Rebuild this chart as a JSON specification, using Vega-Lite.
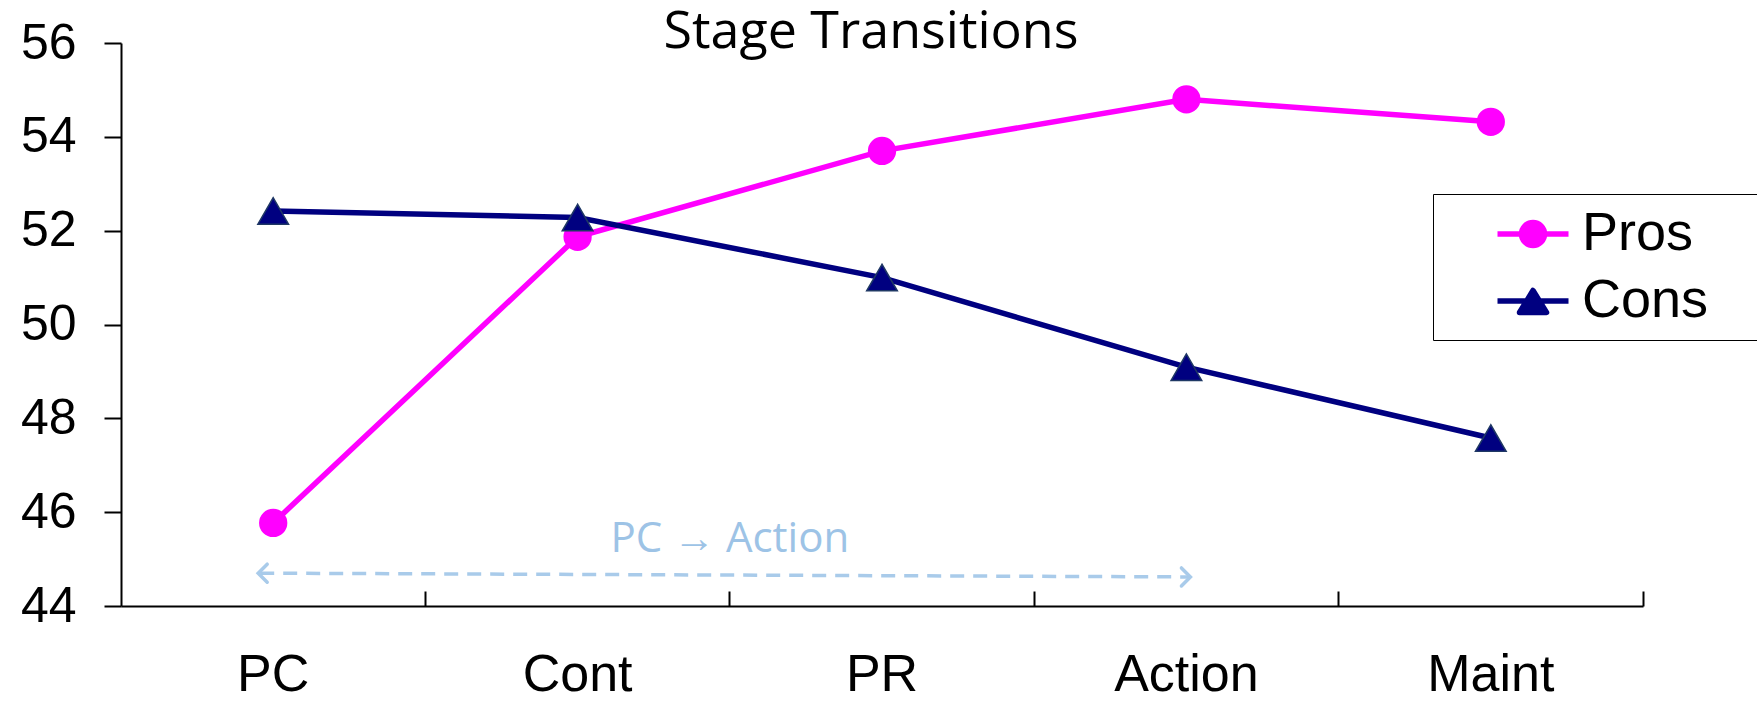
{
  "$schema": "https://vega.github.io/schema/vega-lite/v6.json",
  "width": 1522,
  "height": 563,
  "autosize": {"type": "none"},
  "padding": {"left": 121, "top": 43, "right": 114, "bottom": 96},
  "background": "white",
  "config": {"view": {"stroke": null}, "font": "Liberation Sans"},
  "layer": [
    {
      "data": {"values": [
        {"stage": "PC", "series": "Pros", "value": 45.77},
        {"stage": "Cont", "series": "Pros", "value": 51.87},
        {"stage": "PR", "series": "Pros", "value": 53.7},
        {"stage": "Action", "series": "Pros", "value": 54.8},
        {"stage": "Maint", "series": "Pros", "value": 54.32},
        {"stage": "PC", "series": "Cons", "value": 52.42},
        {"stage": "Cont", "series": "Cons", "value": 52.28},
        {"stage": "PR", "series": "Cons", "value": 51.0},
        {"stage": "Action", "series": "Cons", "value": 49.09},
        {"stage": "Maint", "series": "Cons", "value": 47.58}
      ]},
      "layer": [
        {
          "mark": {"type": "line", "strokeWidth": 5.5},
          "encoding": {
            "x": {"field": "stage", "type": "nominal",
              "scale": {"type": "band", "domain": ["PC", "Cont", "PR", "Action", "Maint"], "paddingInner": 0, "paddingOuter": 0},
              "axis": {"title": null, "orient": "bottom", "labelAngle": 0, "labelFontSize": 52, "labelColor": "black", "labelFont": "Liberation Sans", "labelPadding": 43, "ticks": false, "domainColor": "black", "domainWidth": 2}},
            "y": {"field": "value", "type": "quantitative",
              "scale": {"domain": [44, 56], "nice": false, "zero": false},
              "axis": {"title": null, "values": [44, 46, 48, 50, 52, 54, 56], "grid": false, "tickSize": 17, "tickColor": "black", "tickWidth": 2, "domainColor": "black", "domainWidth": 2, "labelFontSize": 50, "labelColor": "black", "labelFont": "Liberation Sans", "labelPadding": 28}},
            "color": {"field": "series", "type": "nominal",
              "scale": {"domain": ["Pros", "Cons"], "range": ["#FF00FF", "#000080"]},
              "legend": {"orient": "none", "legendX": 1312, "legendY": 151, "title": null, "strokeColor": "black", "padding": 12, "symbolSize": 2500, "symbolOffset": 60, "labelOffset": 21, "labelFontSize": 54, "labelFont": "Liberation Sans", "labelColor": "black", "labelLimit": 1000, "rowPadding": 12, "labelExpr": "datum.label + '\u2800'",
                "encode": {"symbols": {"update": {
                  "shape": {"signal": "datum.value === 'Pros' ? 'M-1.42,0H1.42M0.46,0A0.46,0.46 0 1 1 -0.46,0A0.46,0.46 0 1 1 0.46,0' : 'M-1.42,0H1.42M0,-0.42L0.54,0.46H-0.54Z'"},
                  "fill": {"signal": "datum.value === 'Pros' ? '#FF00FF' : '#000080'"},
                  "stroke": {"signal": "datum.value === 'Pros' ? '#FF00FF' : '#000080'"},
                  "strokeWidth": {"value": 5.5},
                  "strokeJoin": {"value": "round"},
                  "opacity": {"value": 1}}}}}}
          }
        },
        {
          "transform": [{"filter": "datum.series === 'Pros'"}],
          "mark": {"type": "point", "shape": "circle", "filled": true, "opacity": 1, "size": 800, "color": "#FF00FF"},
          "encoding": {
            "x": {"field": "stage", "type": "nominal",
              "axis": {"title": null, "orient": "bottom", "bandPosition": 1, "labels": false, "domain": false, "tickSize": -15, "tickColor": "black", "tickWidth": 2}},
            "y": {"field": "value", "type": "quantitative"}
          }
        },
        {
          "transform": [{"filter": "datum.series === 'Cons'"}],
          "mark": {"type": "point", "shape": "triangle-up", "filled": true, "opacity": 1, "size": 940, "fill": "#000080", "stroke": "#1F3864", "strokeWidth": 1.5},
          "encoding": {
            "x": {"field": "stage", "type": "nominal", "axis": null},
            "y": {"field": "value", "type": "quantitative"}
          }
        }
      ],
      "resolve": {"axis": {"x": "independent"}}
    },
    {
      "data": {"values": [{"label": "PC \u2192 Action"}]},
      "layer": [
        {
          "mark": {"type": "rule", "color": "#A9CBEA", "strokeWidth": 3.5, "strokeDash": [14, 9], "xOffset": -13, "x2Offset": 2},
          "encoding": {
            "x": {"datum": "PC", "axis": null},
            "x2": {"datum": "Action"},
            "y": {"datum": 44.7},
            "y2": {"datum": 44.62}
          }
        },
        {
          "mark": {"type": "point", "shape": "M1,-1L0,0L1,1", "filled": false, "size": 324, "color": "#A9CBEA", "strokeWidth": 3.5, "opacity": 1, "xOffset": -15, "strokeCap": "round"},
          "encoding": {"x": {"datum": "PC", "axis": null}, "y": {"datum": 44.7}}
        },
        {
          "mark": {"type": "point", "shape": "M-1,-1L0,0L-1,1", "filled": false, "size": 324, "color": "#A9CBEA", "strokeWidth": 3.5, "opacity": 1, "xOffset": 4, "strokeCap": "round"},
          "encoding": {"x": {"datum": "Action", "axis": null}, "y": {"datum": 44.62}}
        },
        {
          "mark": {"type": "text", "font": "Open Sans", "fontWeight": "normal", "fontSize": 42, "color": "#9DC3E6", "baseline": "alphabetic", "align": "center"},
          "encoding": {"x": {"datum": "PR", "bandPosition": 0, "axis": null}, "y": {"datum": 45.15}, "text": {"field": "label"}}
        }
      ],
      "resolve": {"axis": {"x": "independent"}}
    },
    {
      "data": {"values": [{"title": "Stage Transitions"}]},
      "mark": {"type": "text", "font": "Open Sans", "fontWeight": "normal", "fontSize": 52, "color": "black", "baseline": "alphabetic", "align": "center", "xOffset": -11, "clip": false},
      "encoding": {"x": {"datum": "PR", "axis": null}, "y": {"datum": 55.89}, "text": {"field": "title"}}
    }
  ],
  "resolve": {"axis": {"x": "independent"}}
}
